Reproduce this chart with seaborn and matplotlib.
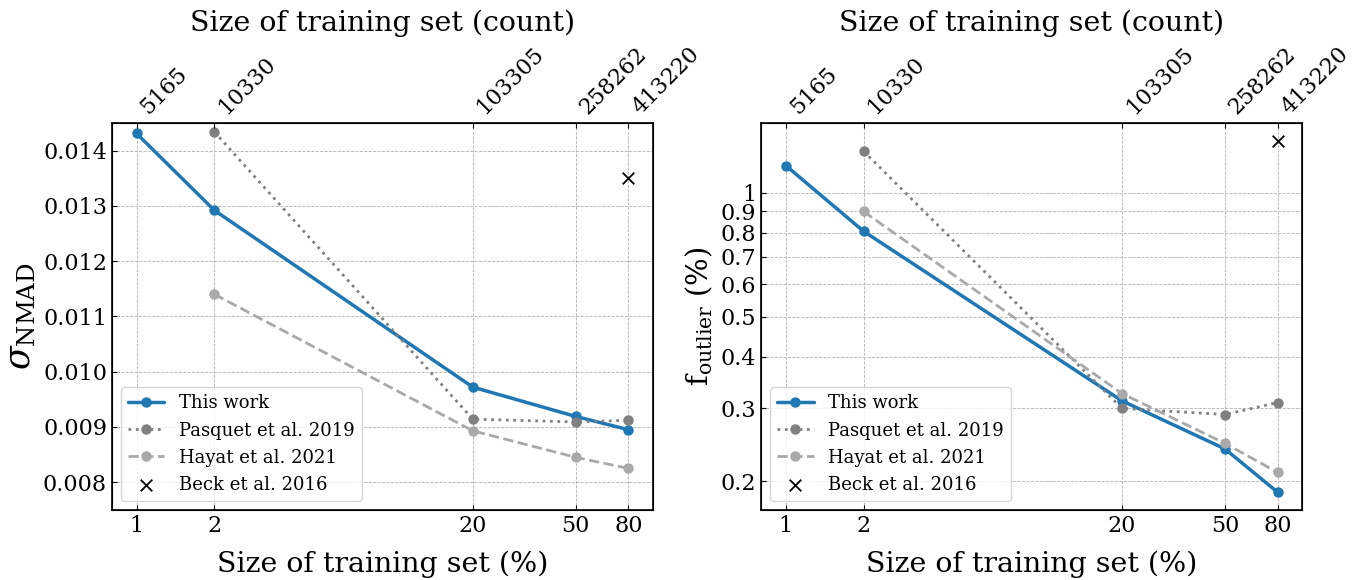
import numpy as np
import pandas as pd
import seaborn as sns
import matplotlib.pyplot as plt
import matplotlib.ticker as mticker

# размер обучающей выборки (%) и соответствующее число объектов
train_pct = [1, 2, 20, 50, 80]
train_count = ["5165", "10330", "103305", "258262", "413220"]

# sigma_NMAD
nmad_this = [0.01431, 0.01292, 0.00972, 0.00919, 0.00895]
nmad_pasquet = [0.01434, 0.00914, 0.00909, 0.00912]
nmad_hayat = [0.0114, 0.00893, 0.00845, 0.00825]
nmad_beck = [0.0135]

# доля выбросов (%)
fout_this = [1.163, 0.806, 0.313, 0.2395, 0.188]
fout_pasquet = [1.26, 0.30, 0.29, 0.31]
fout_hayat = [0.90, 0.326, 0.247, 0.21]
fout_beck = [1.337]

fout_ticks = [0.2, 0.3, 0.4, 0.5, 0.6, 0.7, 0.8, 0.9, 1]
fout_ticklabels = ["0.2", "0.3", "0.4", "0.5", "0.6", "0.7", "0.8", "0.9", "1"]

sns.set_style("ticks")
plt.rcParams["font.family"] = ["DejaVu Serif"]
plt.rcParams["mathtext.fontset"] = "dejavuserif"
for k in ["text.color", "axes.labelcolor", "xtick.color", "ytick.color", "axes.edgecolor"]:
    plt.rcParams[k] = "black"

fig, axes = plt.subplots(1, 2, figsize=(13.65, 5.8), dpi=100)
fig.subplots_adjust(left=0.082, right=0.954, top=0.788, bottom=0.121, wspace=0.2)


def draw(ax, this, pasquet, hayat, beck):
    sns.lineplot(x=train_pct, y=this, ax=ax, color="#1f77b4", lw=2.5,
                 marker="o", markersize=7.5, markeredgewidth=0, label="This work")
    sns.lineplot(x=train_pct[1:], y=pasquet, ax=ax, color="gray", lw=2,
                 linestyle=":", marker="o", markersize=7.5, markeredgewidth=0,
                 label="Pasquet et al. 2019")
    sns.lineplot(x=train_pct[1:], y=hayat, ax=ax, color="darkgray", lw=2,
                 linestyle="--", marker="o", markersize=7.5, markeredgewidth=0,
                 label="Hayat et al. 2021")
    sns.scatterplot(x=train_pct[-1:], y=beck, ax=ax, color="black", marker="x",
                    s=70, linewidth=1.3, label="Beck et al. 2016")
    ax.set_xscale("log")
    ax.set_xticks(train_pct)
    ax.xaxis.set_major_formatter(mticker.ScalarFormatter())
    ax.xaxis.set_minor_locator(mticker.NullLocator())
    ax.tick_params(direction="in", labelsize=16)
    ax.grid(True, linestyle="--", linewidth=0.6, color="#b0b0b0")
    ax.set_xlabel("Size of training set (%)", fontsize=20.5, labelpad=10)
    ax.legend(loc="lower left", fontsize=13, framealpha=0.8)
    for s in ax.spines.values():
        s.set_linewidth(1.2)

    top = ax.twiny()
    top.set_xscale("log")
    top.set_xlim(ax.get_xlim())
    top.set_xticks(train_pct)
    top.set_xticklabels(train_count, rotation=45, ha="left", fontsize=16)
    top.xaxis.set_minor_locator(mticker.NullLocator())
    top.tick_params(direction="in")
    top.set_xlabel("Size of training set (count)", fontsize=20.5, labelpad=8)


ax1, ax2 = axes
draw(ax1, nmad_this, nmad_pasquet, nmad_hayat, nmad_beck)
ax1.set_ylim(0.0075, 0.0145)
ax1.set_yticks([0.008, 0.009, 0.010, 0.011, 0.012, 0.013, 0.014])
ax1.yaxis.set_major_formatter(mticker.FormatStrFormatter("%.3f"))
ax1.set_ylabel(r"$\sigma_{\rm NMAD}$", fontsize=25)

draw(ax2, fout_this, fout_pasquet, fout_hayat, fout_beck)
ax2.set_yscale("log")
ax2.set_yticks(fout_ticks)
ax2.set_yticklabels(fout_ticklabels)
ax2.yaxis.set_minor_locator(mticker.NullLocator())
ax2.set_ylabel(r"$\rm f_{outlier}$ (%)", fontsize=21)

plt.savefig("out.png", dpi=100)
